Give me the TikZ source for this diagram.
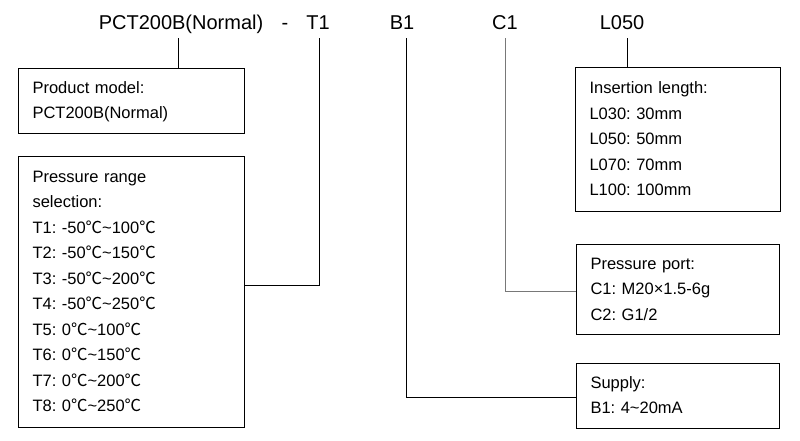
\documentclass[tikz,border=0pt]{standalone}
\usepackage{fontspec}
\setmainfont{Liberation Sans}
\newfontfamily\cjk{Noto Sans CJK SC}
\newcommand{\dC}{{\cjk ℃}}
\frenchspacing
\usetikzlibrary{positioning}
\definecolor{portgray}{RGB}{120,120,120}

\tikzset{
  code/.style={font=\fontsize{20}{24}\selectfont, anchor=base, text height=14pt, text depth=5pt, inner sep=4pt},
  infobox/.style={draw, line width=1pt, anchor=north west, align=left, inner xsep=14pt, inner ysep=0pt,
    font=\fontsize{16.5}{25.5}\selectfont, execute at begin node=\strut, execute at end node=\strut},
  link/.style={line width=1pt},
}

\begin{document}
\begin{tikzpicture}[x=1pt, y=-1pt]
    \useasboundingbox (0,0) rectangle (800,440);

    % order code
    \node[code] (pct) at (181,29) {PCT200B(Normal)};
    \node[code] (sep) at (285,29) {-};
    \node[code] (t1) at (318,29) {T1};
    \node[code] (b1) at (402,29) {B1};
    \node[code] (c1) at (505,29) {C1};
    \node[code] (l050) at (622,29) {L050};

    % boxes
    \node[infobox, text width=198pt, minimum height=65pt] (model) at (18,68)
        {Product model:\\PCT200B(Normal)};
    \node[infobox, text width=198pt, minimum height=271pt] (range) at (18,156)
        {Pressure range\\selection:\\T1: -50\dC\textasciitilde100\dC\\T2: -50\dC\textasciitilde150\dC\\
         T3: -50\dC\textasciitilde200\dC\\T4: -50\dC\textasciitilde250\dC\\T5: 0\dC\textasciitilde100\dC\\
         T6: 0\dC\textasciitilde150\dC\\T7: 0\dC\textasciitilde200\dC\\T8: 0\dC\textasciitilde250\dC};
    \node[infobox, text width=177pt, minimum height=144pt] (length) at (575,67)
        {Insertion length:\\L030: 30mm\\L050: 50mm\\L070: 70mm\\L100: 100mm};
    \node[infobox, text width=175pt, minimum height=90pt] (port) at (576,244)
        {Pressure port:\\C1: M20×1.5-6g\\C2: G1/2};
    \node[infobox, text width=175pt, minimum height=65pt] (supply) at (576,363)
        {Supply:\\B1: 4\textasciitilde20mA};

    % connectors
    \draw[link] ([xshift=-3pt]pct.south) -- ([xshift=-3pt]pct.south |- model.north);
    \draw[link] ([xshift=1pt]t1.south) |- ([yshift=6.5pt]range.east);
    \draw[link] ([xshift=4pt]b1.south) |- ([yshift=-1.5pt]supply.west);
    \draw[link, portgray] (c1.south) |- ([yshift=-1.5pt]port.west);
    \draw[link] ([xshift=5pt]l050.south) -- ([xshift=5pt]l050.south |- length.north);
\end{tikzpicture}
\end{document}
